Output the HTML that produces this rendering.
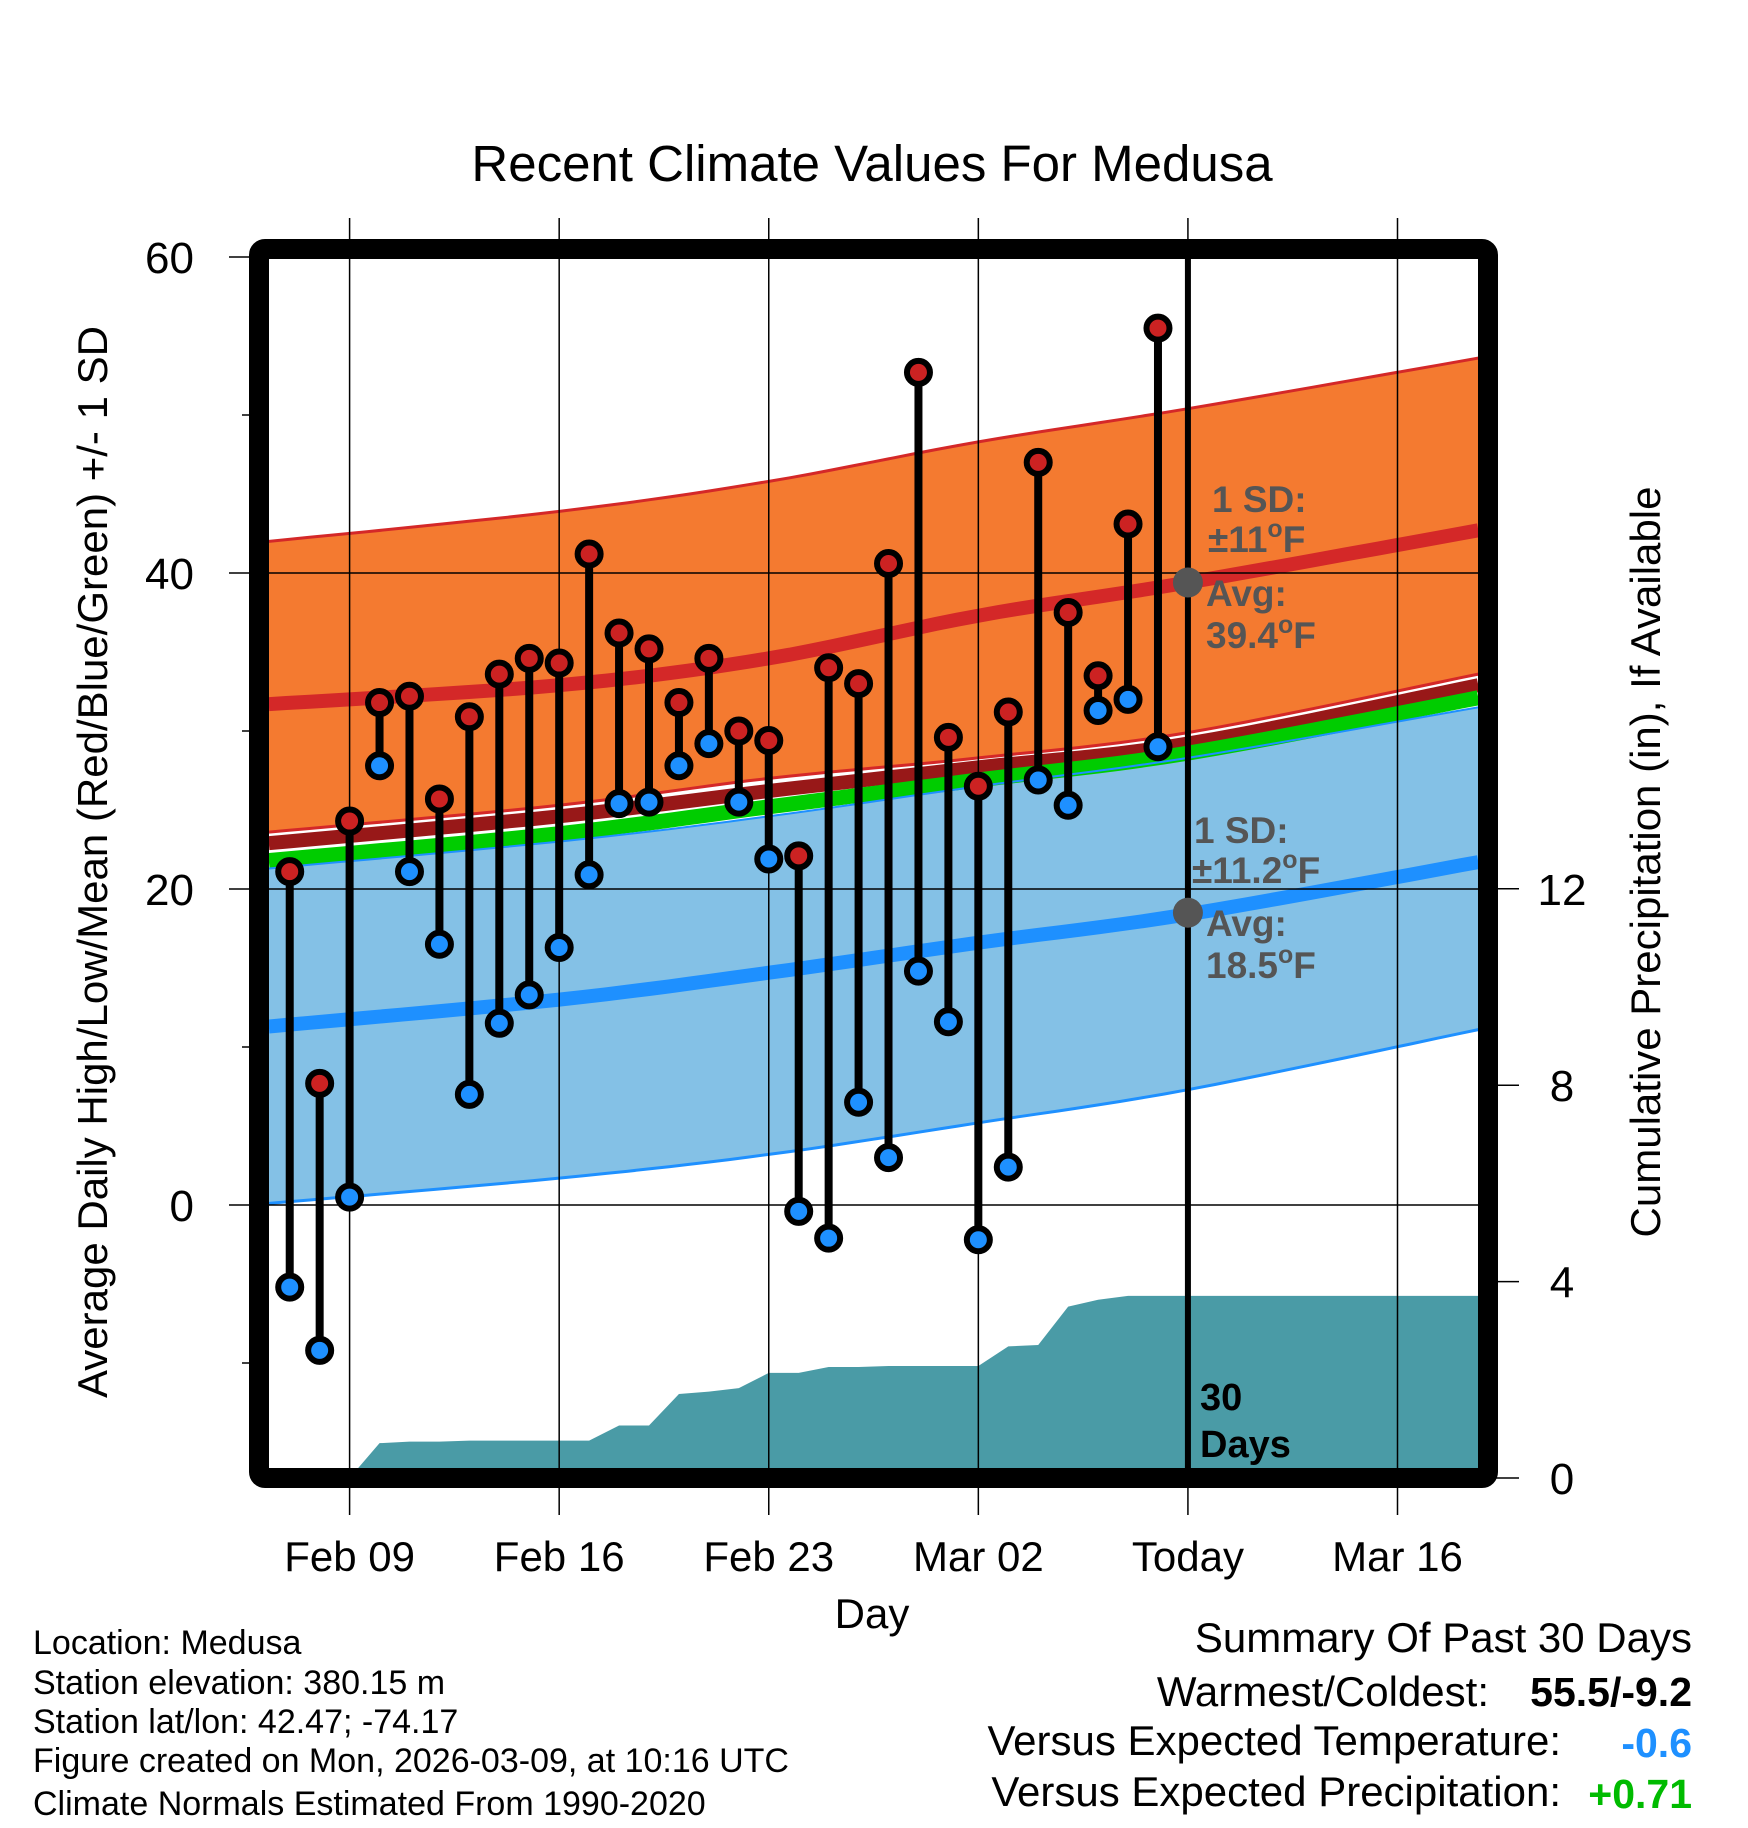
<!DOCTYPE html>
<html><head><meta charset="utf-8"><style>
html,body{margin:0;padding:0;background:#fff;}
svg{display:block;font-family:"Liberation Sans",sans-serif;}
</style></head><body>
<svg id="chart" width="1748" height="1828" viewBox="0 0 1748 1828" xmlns="http://www.w3.org/2000/svg">
<defs><clipPath id="plotclip"><rect x="269" y="259" width="1209" height="1209"/></clipPath></defs>
<text x="872" y="181" font-size="51" text-anchor="middle">Recent Climate Values For Medusa</text>
<g id="plot" clip-path="url(#plotclip)"></g>
<g id="axes"></g>
<text transform="translate(107,862) rotate(-90)" font-size="42" text-anchor="middle">Average Daily High/Low/Mean (Red/Blue/Green) +/- 1 SD</text>
<text transform="translate(1660,862) rotate(-90)" font-size="42" text-anchor="middle">Cumulative Precipitation (in), If Available</text>
<text x="872" y="1628" font-size="42" text-anchor="middle">Day</text>
<g font-size="34">
<text x="33" y="1654">Location: Medusa</text>
<text x="33" y="1694">Station elevation: 380.15 m</text>
<text x="33" y="1733">Station lat/lon: 42.47; -74.17</text>
<text x="33" y="1772">Figure created on Mon, 2026-03-09, at 10:16 UTC</text>
<text x="33" y="1815">Climate Normals Estimated From 1990-2020</text>
</g>
<g font-size="42">
<text x="1692" y="1652" text-anchor="end">Summary Of Past 30 Days</text>
<text x="1489" y="1706" text-anchor="end">Warmest/Coldest:</text>
<text x="1692" y="1706" text-anchor="end" font-weight="bold" font-size="41">55.5/-9.2</text>
<text x="1561" y="1755" text-anchor="end">Versus Expected Temperature:</text>
<text x="1692" y="1757" text-anchor="end" font-weight="bold" font-size="41" fill="#1e90ff">-0.6</text>
<text x="1561" y="1806" text-anchor="end">Versus Expected Precipitation:</text>
<text x="1692" y="1808" text-anchor="end" font-weight="bold" font-size="41" fill="#00bb00">+0.71</text>
</g>
</svg>
<script>
// Data
const dayOffsets = [-2,-1,0,1,2,3,4,5,6,7,8,9,10,11,12,13,14,15,16,17,18,19,20,21,22,23,24,25,26,27];
const highs = [21.1,7.7,24.3,31.8,32.2,25.7,30.9,33.6,34.6,34.3,41.2,36.2,35.2,31.8,34.6,30.0,29.4,22.1,34.0,33.0,40.6,52.7,29.6,26.5,31.2,47.0,37.5,33.5,43.1,55.5];
const lows = [-5.2,-9.2,0.5,27.8,21.1,16.5,7.0,11.5,13.3,16.3,20.9,25.4,25.5,27.8,29.2,25.5,21.9,-0.4,-2.1,6.5,3.0,14.8,11.6,-2.2,2.4,26.9,25.3,31.3,32.0,29.0];
const precip = [0,0,0,0.71,0.74,0.74,0.76,0.76,0.76,0.76,0.76,1.07,1.07,1.71,1.76,1.83,2.14,2.14,2.26,2.26,2.28,2.28,2.28,2.28,2.68,2.71,3.49,3.63,3.71,3.71];
const normDays = [-2.7,7,14,21,28,37.7];
const normHigh = [31.7,32.9,34.6,37.3,39.4,42.7];
const normHighUp = [42.0,43.9,45.8,48.3,50.4,53.6];
const normHighDn = [23.6,25.3,27.0,28.3,29.9,33.6];
const normDark = [22.9,24.6,26.2,27.7,29.2,32.9];
const normMean = [21.8,23.5,25.2,26.9,28.6,32.1];
const normLow = [11.3,13.0,14.7,16.6,18.4,21.7];
const normLowUp = [21.3,23.0,24.6,26.5,28.3,31.5];
const normLowDn = [0.1,1.7,3.2,5.2,7.3,11.1];
const yTicks = [0,20,40,60];
const yMinor = [-10,10,30,50];
const pTicks = [0,4,8,12];
const xTickDays = [0,7,14,21,28,35];
const xTickLabels = ["Feb 09","Feb 16","Feb 23","Mar 02","Today","Mar 16"];
const todayDay = 28, todayHigh = 39.4, todayLow = 18.5;

const NS="http://www.w3.org/2000/svg";
const X = d => 349.6 + 29.94*d;
const Y = t => 1205 - 15.8*t;
const YP = p => 1478 - 49.1*p;
const plot=document.getElementById('plot'), axes=document.getElementById('axes');
function mk(tag,attrs,parent){const e=document.createElementNS(NS,tag);for(const k in attrs)e.setAttribute(k,attrs[k]);(parent||plot).appendChild(e);return e;}
// smooth (Catmull-Rom sampled) points through the normal values
function pts(vals){
  const P=normDays.map((d,i)=>[X(d),Y(vals[i])]);const out=[];
  for(let i=0;i<P.length-1;i++){const p0=P[Math.max(0,i-1)],p1=P[i],p2=P[i+1],p3=P[Math.min(P.length-1,i+2)];
    for(let s=0;s<10;s++){const t=s/10,t2=t*t,t3=t2*t;
      const f=(a,b,c,d)=>0.5*((2*b)+(-a+c)*t+(2*a-5*b+4*c-d)*t2+(-a+3*b-3*c+d)*t3);
      out.push(f(p0[0],p1[0],p2[0],p3[0]).toFixed(1)+','+f(p0[1],p1[1],p2[1],p3[1]).toFixed(1));}}
  const L=P[P.length-1];out.push(L[0].toFixed(1)+','+L[1].toFixed(1));return out;}

let e;
e=mk('polygon',{points:pts(normHighUp).concat(pts(normHighDn).reverse()).join(' '),fill:'#f47a30'});


e=mk('polygon',{points:pts(normLowUp).concat(pts(normLowDn).reverse()).join(' '),fill:'#84c1e6'});


function line(vals,color,w,name){const l=mk('polyline',{points:pts(vals).join(' '),fill:'none',stroke:color,'stroke-width':w});

}
line(normHighUp,'#d42828',3,'high-upper-line');
line(normLowDn,'#1e90ff',3,'low-lower-line');
line(normDark,'#981818',14,'dark-band-line');
line(normHighDn,'#d42828',3,'high-lower-line');
line(normMean,'#00cc00',15,'mean-line');
line(normLowUp,'#1e90ff',2,'low-upper-line');
line(normHigh,'#d42828',14,'avg-high-line');
line(normLow,'#1e90ff',14,'avg-low-line');

let pp=[X(dayOffsets[0])+','+YP(0)];
dayOffsets.forEach((d,i)=>pp.push(X(d)+','+YP(precip[i])));
pp.push(X(37.8)+','+YP(precip[precip.length-1]));pp.push(X(37.8)+','+YP(0));
e=mk('polygon',{points:pp.join(' '),fill:'#4a9ba6'});



yTicks.forEach(t=>{const g=mk('line',{x1:229,x2:1488,y1:Y(t),y2:Y(t),stroke:'#000','stroke-width':1.5},axes);

});
xTickDays.forEach(d=>{const g=mk('line',{x1:X(d),x2:X(d),y1:218,y2:1515,stroke:'#000','stroke-width':1.5},axes);

});
yMinor.forEach(t=>{const g=mk('line',{x1:242,x2:259,y1:Y(t),y2:Y(t),stroke:'#000','stroke-width':1.5},axes);

});
pTicks.forEach(p=>{const g=mk('line',{x1:1488,x2:1519,y1:YP(p),y2:YP(p),stroke:'#000','stroke-width':1.5},axes);


const t=mk('text',{x:1562,y:YP(p)+16,'font-size':44,'text-anchor':'middle'},axes);t.textContent=p;

});
yTicks.forEach(v=>{const t=mk('text',{x:194,y:Y(v)+16,'font-size':44,'text-anchor':'end'},axes);t.textContent=v;

});
xTickDays.forEach((d,i)=>{const t=mk('text',{x:X(d),y:1571,'font-size':42,'text-anchor':'middle'},axes);t.textContent=xTickLabels[i];

});

e=mk('line',{x1:X(todayDay),x2:X(todayDay),y1:259,y2:1468,stroke:'#000','stroke-width':6},axes);



dayOffsets.forEach((d,i)=>{const s=mk('line',{x1:X(d),x2:X(d),y1:Y(highs[i]),y2:Y(lows[i]),stroke:'#000','stroke-width':8},axes);

});
dayOffsets.forEach((d,i)=>{
const h=mk('circle',{cx:X(d),cy:Y(highs[i]),r:11.5,fill:'#cc2222',stroke:'#000','stroke-width':6},axes);


const l=mk('circle',{cx:X(d),cy:Y(lows[i]),r:11.5,fill:'#1e90ff',stroke:'#000','stroke-width':6},axes);

});

[todayHigh,todayLow].forEach(v=>{const c=mk('circle',{cx:X(todayDay),cy:Y(v),r:15,fill:'#555'},axes);

});

function ann(x,y,txt,sup,rest,name){const t=mk('text',{x:x,y:y,'font-size':37,'font-weight':'bold',fill:'#555'},axes);


t.appendChild(document.createTextNode(txt));
if(sup){const s=mk('tspan',{'font-size':25,dy:-15},t);s.textContent=sup;const r=mk('tspan',{dy:15},t);r.textContent=rest;}}
ann(1212,512,'1 SD:','','','high-sd-label');
ann(1208,552,'±11','o','F','high-sd-value');
ann(1206,606,'Avg:','','','high-avg-label');
ann(1206,648,'39.4','o','F','high-avg-value');
ann(1194,843,'1 SD:','','','low-sd-label');
ann(1192,883,'±11.2','o','F','low-sd-value');
ann(1206,936,'Avg:','','','low-avg-label');
ann(1206,978,'18.5','o','F','low-avg-value');
let d1=mk('text',{x:1200,y:1410,'font-size':38,'font-weight':'bold'},axes);d1.textContent='30';


let d2=mk('text',{x:1200,y:1457,'font-size':38,'font-weight':'bold'},axes);d2.textContent='Days';



e=mk('rect',{x:259,y:249,width:1229,height:1229,rx:6,fill:'none',stroke:'#000','stroke-width':20},axes);


</script>
</body></html>
